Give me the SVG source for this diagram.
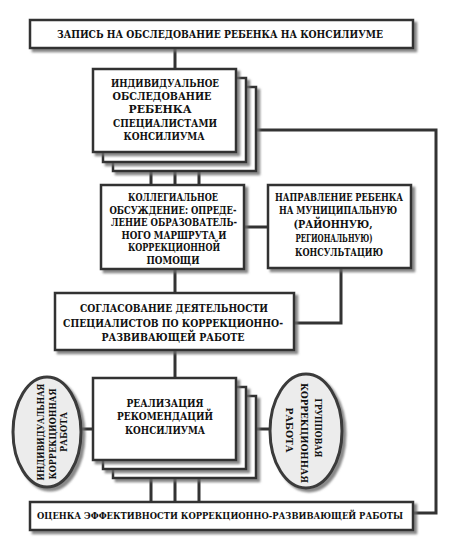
<svg xmlns="http://www.w3.org/2000/svg" width="474" height="550" viewBox="0 0 474 550">
<defs>
<filter id="sh" x="-10%" y="-10%" width="130%" height="140%">
<feDropShadow dx="3" dy="3" stdDeviation="1" flood-color="#6a6a6a" flood-opacity="0.8"/>
</filter>
</defs>
<style>
.b{fill:#fff;stroke:#333;stroke-width:2.5;filter:url(#sh)}
.e{fill:#ececec;stroke:#3a3a3a;stroke-width:3;filter:url(#sh)}
.c{fill:none;stroke:#333;stroke-width:3}
.t{font-family:"DejaVu Serif","Liberation Serif",serif;font-weight:bold;font-size:11.5px;fill:#111;text-anchor:middle}
.m{font-size:10.5px}
.w{font-size:9.5px}
.s{font-family:"DejaVu Serif","Liberation Serif",serif;font-weight:bold;font-size:10px;fill:#111;text-anchor:middle}
</style>
<rect width="474" height="550" fill="#fff"/>
<g id="connectors">
<path class="c" d="M175 48V69"/>
<path class="c" d="M151 152V185M175 161V185M199 170V185"/>
<path class="c" d="M244 227H268"/>
<path class="c" d="M175 269V293"/>
<path class="c" d="M341 268V323H294"/>
<path class="c" d="M175 350V378"/>
<path class="c" d="M81 429H93"/>
<path class="c" d="M256 429H270"/>
<path class="c" d="M151 460V502M175 469V502M199 478V502"/>
<path class="c" d="M256 130H436V513H413"/>
</g>
<g id="n1">
<rect class="b" x="30" y="20" width="383" height="28"/>
<text class="t" x="220" y="38" textLength="326" lengthAdjust="spacingAndGlyphs">ЗАПИСЬ НА ОБСЛЕДОВАНИЕ РЕБЕНКА НА КОНСИЛИУМЕ</text>
</g>
<g id="n2">
<rect class="b" x="113" y="87" width="143" height="84"/>
<rect class="b" x="103" y="78" width="143" height="84"/>
<rect class="b" x="93" y="69" width="143" height="83"/>
<text class="t" x="165" y="87" textLength="108" lengthAdjust="spacingAndGlyphs">ИНДИВИДУАЛЬНОЕ</text>
<text class="t" x="162" y="100" textLength="99" lengthAdjust="spacingAndGlyphs">ОБСЛЕДОВАНИЕ</text>
<text class="t" x="160" y="113" textLength="63" lengthAdjust="spacingAndGlyphs">РЕБЕНКА</text>
<text class="t" x="165" y="127" textLength="104" lengthAdjust="spacingAndGlyphs">СПЕЦИАЛИСТАМИ</text>
<text class="t" x="164" y="140" textLength="81" lengthAdjust="spacingAndGlyphs">КОНСИЛИУМА</text>
</g>
<g id="n3">
<rect class="b" x="101" y="185" width="143" height="84"/>
<text class="t m" x="173" y="201" textLength="90" lengthAdjust="spacingAndGlyphs">КОЛЛЕГИАЛЬНОЕ</text>
<text class="t m" x="173" y="213.5" textLength="127" lengthAdjust="spacingAndGlyphs">ОБСУЖДЕНИЕ: ОПРЕДЕ-</text>
<text class="t m" x="174" y="226" textLength="126" lengthAdjust="spacingAndGlyphs">ЛЕНИЕ ОБРАЗОВАТЕЛЬ-</text>
<text class="t m" x="174" y="238.5" textLength="105" lengthAdjust="spacingAndGlyphs">НОГО МАРШРУТА И</text>
<text class="t m" x="174" y="251" textLength="92" lengthAdjust="spacingAndGlyphs">КОРРЕКЦИОННОЙ</text>
<text class="t m" x="173" y="264" textLength="53" lengthAdjust="spacingAndGlyphs">ПОМОЩИ</text>
</g>
<g id="n4">
<rect class="b" x="268" y="185" width="143" height="83"/>
<text class="t m" x="339" y="201" textLength="128" lengthAdjust="spacingAndGlyphs">НАПРАВЛЕНИЕ РЕБЕНКА</text>
<text class="t m" x="338" y="214" textLength="118" lengthAdjust="spacingAndGlyphs">НА МУНИЦИПАЛЬНУЮ</text>
<text class="t m" x="333" y="228" textLength="79" lengthAdjust="spacingAndGlyphs">(РАЙОННУЮ,</text>
<text class="t m" x="334" y="242" textLength="77" lengthAdjust="spacingAndGlyphs">РЕГИОНАЛЬНУЮ)</text>
<text class="t m" x="339" y="256" textLength="88" lengthAdjust="spacingAndGlyphs">КОНСУЛЬТАЦИЮ</text>
</g>
<g id="n5">
<rect class="b" x="55" y="293" width="239" height="57"/>
<text class="t" x="174" y="312" textLength="188" lengthAdjust="spacingAndGlyphs">СОГЛАСОВАНИЕ ДЕЯТЕЛЬНОСТИ</text>
<text class="t" x="173" y="327" textLength="220" lengthAdjust="spacingAndGlyphs">СПЕЦИАЛИСТОВ ПО КОРРЕКЦИОННО-</text>
<text class="t" x="173" y="341" textLength="143" lengthAdjust="spacingAndGlyphs">РАЗВИВАЮЩЕЙ РАБОТЕ</text>
</g>
<g id="n6">
<rect class="b" x="113" y="396" width="143" height="82"/>
<rect class="b" x="103" y="387" width="143" height="82"/>
<rect class="b" x="93" y="378" width="143" height="82"/>
<text class="t" x="165" y="407" textLength="77" lengthAdjust="spacingAndGlyphs">РЕАЛИЗАЦИЯ</text>
<text class="t" x="165" y="420" textLength="96" lengthAdjust="spacingAndGlyphs">РЕКОМЕНДАЦИЙ</text>
<text class="t" x="165" y="434" textLength="80" lengthAdjust="spacingAndGlyphs">КОНСИЛИУМА</text>
</g>
<g id="n7">
<ellipse class="e" cx="47" cy="432" rx="34" ry="55"/>
<text class="s" transform="translate(40 432) rotate(-90)" y="3.5" textLength="97" lengthAdjust="spacingAndGlyphs">ИНДИВИДУАЛЬНАЯ</text>
<text class="s" transform="translate(52 434) rotate(-90)" y="3.5" textLength="91" lengthAdjust="spacingAndGlyphs">КОРРЕКЦИОННАЯ</text>
<text class="s" transform="translate(63 432) rotate(-90)" y="3.5" textLength="40" lengthAdjust="spacingAndGlyphs">РАБОТА</text>
</g>
<g id="n8">
<ellipse class="e" cx="306" cy="431" rx="36" ry="57"/>
<text class="s" transform="translate(318 428) rotate(90)" y="3.5" textLength="59" lengthAdjust="spacingAndGlyphs">ГРУППОВАЯ</text>
<text class="s" transform="translate(304 433) rotate(90)" y="3.5" textLength="100" lengthAdjust="spacingAndGlyphs">КОРРЕКЦИОННАЯ</text>
<text class="s" transform="translate(289 430) rotate(90)" y="3.5" textLength="45" lengthAdjust="spacingAndGlyphs">РАБОТА</text>
</g>
<g id="n9">
<rect class="b" x="30" y="502" width="383" height="28"/>
<text class="t w" x="220" y="519" textLength="366" lengthAdjust="spacingAndGlyphs">ОЦЕНКА ЭФФЕКТИВНОСТИ КОРРЕКЦИОННО-РАЗВИВАЮЩЕЙ РАБОТЫ</text>
</g>
</svg>
